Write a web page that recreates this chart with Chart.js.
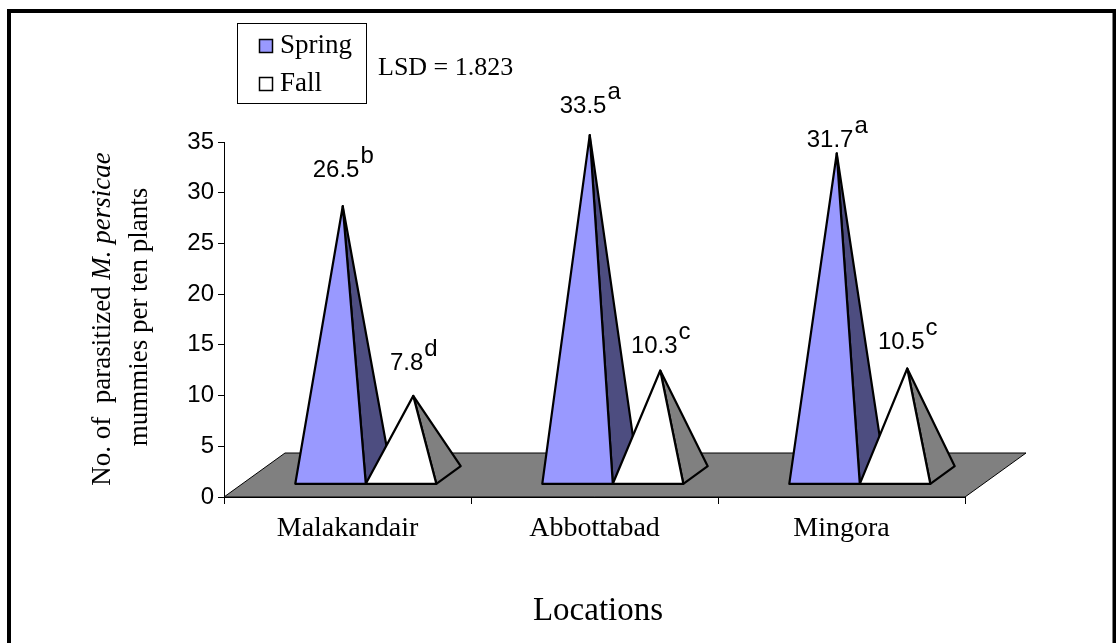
<!DOCTYPE html>
<html>
<head>
<meta charset="utf-8">
<script src="https://cdn.jsdelivr.net/npm/chart.js@4/dist/chart.umd.min.js"></script>
<style>
  html, body { margin: 0; padding: 0; background: #fff; overflow: hidden; }
  canvas { display: block; }
</style>
</head>
<body>
<canvas id="c" width="1116" height="643"></canvas>
<script>
// Parasitized M. persicae mummies per ten plants, by location and season
const locations = ['Malakandair', 'Abbottabad', 'Mingora'];
const springMummies = [26.5, 33.5, 31.7];
const fallMummies = [7.8, 10.3, 10.5];
const springLetters = ['b', 'a', 'a'];
const fallLetters = ['d', 'c', 'c'];
const yTicks = [0, 5, 10, 15, 20, 25, 30, 35];
const lsdValue = 1.823;

// how far (px) each value label sits above its pyramid apex
const springLabelRaise = [29, 22, 6];
const fallLabelRaise = [26, 18, 20];

const SANS = '"Liberation Sans", Arial, sans-serif';
const SERIF = '"Liberation Serif", "Times New Roman", serif';
const DEPTH_X = 61, DEPTH_Y = 44;   // projected depth of the floor
const FRONT = 0.3, BACK = 0.7;      // pyramid base, as fractions of the depth

const seriesStyle = [
  { front: '#9999FF', side: '#4D4D80', letters: springLetters, raise: springLabelRaise },
  { front: '#FFFFFF', side: '#808080', letters: fallLetters, raise: fallLabelRaise }
];

const pyramidPlugin = {
  id: 'pyramids',
  // the flat bars are replaced by pyramids drawn below
  beforeDatasetDraw() { return false; },
  beforeDatasetsDraw(chart) {
    const { ctx, chartArea: a, scales: { y } } = chart;
    const y0 = y.getPixelForValue(0);
    ctx.save();
    ctx.beginPath();
    ctx.moveTo(a.left, y0);
    ctx.lineTo(a.right, y0);
    ctx.lineTo(a.right + DEPTH_X, y0 - DEPTH_Y);
    ctx.lineTo(a.left + DEPTH_X, y0 - DEPTH_Y);
    ctx.closePath();
    ctx.fillStyle = '#808080';
    ctx.fill();
    ctx.lineWidth = 1;
    ctx.strokeStyle = '#000';
    ctx.stroke();
    ctx.restore();
  },
  afterDatasetsDraw(chart) {
    const { ctx, scales: { y } } = chart;
    const y0 = y.getPixelForValue(0);
    const baseY = y0 - FRONT * DEPTH_Y;
    const labels = [];
    ctx.save();
    ctx.lineJoin = 'round';
    ctx.lineWidth = 2.2;
    ctx.strokeStyle = '#000';
    chart.data.labels.forEach((_, i) => {
      chart.data.datasets.forEach((ds, d) => {
        const bar = chart.getDatasetMeta(d).data[i];
        const { x, width } = bar.getProps(['x', 'width'], true);
        const st = seriesStyle[d];
        const L = x - width / 2 + FRONT * DEPTH_X;
        const R = x + width / 2 + FRONT * DEPTH_X;
        const apexX = x + 0.5 * DEPTH_X;
        const apexY = y.getPixelForValue(ds.data[i]) - 0.5 * DEPTH_Y;
        const backR = [R + (BACK - FRONT) * DEPTH_X, baseY - (BACK - FRONT) * DEPTH_Y];
        // right face
        ctx.beginPath();
        ctx.moveTo(apexX, apexY);
        ctx.lineTo(R, baseY);
        ctx.lineTo(backR[0], backR[1]);
        ctx.closePath();
        ctx.fillStyle = st.side;
        ctx.fill();
        ctx.stroke();
        // front face
        ctx.beginPath();
        ctx.moveTo(apexX, apexY);
        ctx.lineTo(L, baseY);
        ctx.lineTo(R, baseY);
        ctx.closePath();
        ctx.fillStyle = st.front;
        ctx.fill();
        ctx.stroke();
        labels.push({ x: apexX, y: apexY - st.raise[i], text: ds.data[i].toFixed(1), sup: st.letters[i] });
      });
    });
    // value labels with significance letters
    ctx.fillStyle = '#000';
    ctx.font = '24px ' + SANS;
    ctx.textBaseline = 'alphabetic';
    ctx.textAlign = 'left';
    labels.forEach(l => {
      const w1 = ctx.measureText(l.text).width;
      const w2 = ctx.measureText(l.sup).width;
      const sx = l.x - (w1 + w2) / 2;
      ctx.fillText(l.text, sx, l.y);
      ctx.fillText(l.sup, sx + w1 + 1, l.y - 14);
    });
    ctx.restore();
  }
};

const decorPlugin = {
  id: 'decor',
  afterDraw(chart) {
    const { ctx } = chart;
    ctx.save();
    // outer frame
    ctx.strokeStyle = '#000';
    ctx.lineWidth = 4;
    ctx.strokeRect(9, 11, 1105.5, 700);

    // legend box
    ctx.fillStyle = '#fff';
    ctx.fillRect(237.5, 23.5, 129, 80);
    ctx.lineWidth = 1;
    ctx.strokeRect(237.5, 23.5, 129, 80);
    const entries = [
      { name: chart.data.datasets[0].label, color: seriesStyle[0].front, y: 53 },
      { name: chart.data.datasets[1].label, color: seriesStyle[1].front, y: 91 }
    ];
    ctx.font = '27px ' + SERIF;
    ctx.textBaseline = 'alphabetic';
    entries.forEach(e => {
      ctx.fillStyle = e.color;
      ctx.fillRect(259.5, e.y - 13.5, 13, 13);
      ctx.lineWidth = 1.5;
      ctx.strokeStyle = '#000';
      ctx.strokeRect(259.5, e.y - 13.5, 13, 13);
      ctx.fillStyle = '#000';
      ctx.fillText(e.name, 280, e.y);
    });

    // LSD note
    ctx.font = '26px ' + SERIF;
    ctx.fillText('LSD = ' + lsdValue.toFixed(3), 378, 75);

    // x axis title
    ctx.font = '33px ' + SERIF;
    ctx.textAlign = 'center';
    ctx.fillText('Locations', 598, 620);

    // y axis title (two lines, species name in italics)
    ctx.translate(0, 0);
    ctx.save();
    ctx.translate(103, 319);
    ctx.rotate(-Math.PI / 2);
    ctx.textBaseline = 'middle';
    ctx.textAlign = 'left';
    const p1 = 'No. of  parasitized ', p2 = 'M. persicae';
    ctx.font = '27px ' + SERIF;
    const w1 = ctx.measureText(p1).width;
    ctx.font = 'italic 27px ' + SERIF;
    const w2 = ctx.measureText(p2).width;
    const start = -(w1 + w2) / 2;
    ctx.font = '27px ' + SERIF;
    ctx.fillText(p1, start, 0);
    ctx.font = 'italic 27px ' + SERIF;
    ctx.fillText(p2, start + w1, 0);
    ctx.restore();
    ctx.save();
    ctx.translate(140, 317);
    ctx.rotate(-Math.PI / 2);
    ctx.textBaseline = 'middle';
    ctx.textAlign = 'center';
    ctx.font = '27px ' + SERIF;
    ctx.fillText('mummies per ten plants', 0, 0);
    ctx.restore();
    ctx.restore();
  }
};

new Chart(document.getElementById('c'), {
  type: 'bar',
  data: {
    labels: locations,
    datasets: [
      { label: 'Spring', data: springMummies, backgroundColor: seriesStyle[0].front },
      { label: 'Fall', data: fallMummies, backgroundColor: seriesStyle[1].front }
    ]
  },
  options: {
    responsive: false,
    animation: false,
    devicePixelRatio: 1,
    layout: { padding: { left: 0, top: 142, right: 151, bottom: 0 } },
    datasets: { bar: { categoryPercentage: 0.571, barPercentage: 1.0 } },
    plugins: { legend: { display: false }, tooltip: { enabled: false }, title: { display: false } },
    scales: {
      x: {
        type: 'category',
        offset: true,
        grid: { offset: true, drawOnChartArea: false, tickLength: 7, color: '#000', tickWidth: 1 },
        border: { color: '#000', width: 1 },
        ticks: { font: { family: SERIF, size: 28 }, color: '#000', padding: 8, maxRotation: 0 },
        afterFit(s) { s.height = 146; }
      },
      y: {
        min: 0,
        max: 35,
        afterBuildTicks(s) { s.ticks = yTicks.map(v => ({ value: v })); },
        grid: { drawOnChartArea: false, tickLength: 6, color: '#000' },
        border: { color: '#000', width: 1 },
        ticks: { font: { family: SANS, size: 24 }, color: '#000', padding: 4 },
        afterFit(s) { s.width = 224; }
      }
    }
  },
  plugins: [pyramidPlugin, decorPlugin]
});
</script>
</body>
</html>
